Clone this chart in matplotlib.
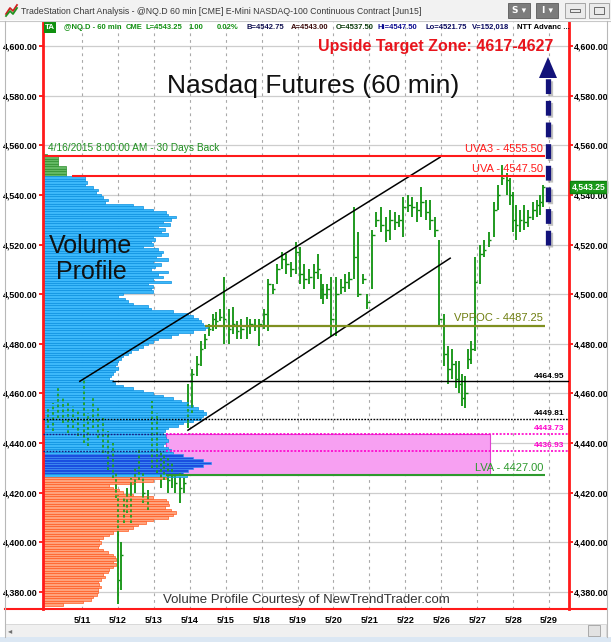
import matplotlib
matplotlib.use("Agg")
import matplotlib.pyplot as plt
import matplotlib.patheffects as pe
from matplotlib.patches import Rectangle, Polygon
from matplotlib.lines import Line2D
import numpy as np

plt.rcParams['font.family'] = ['Liberation Sans', 'DejaVu Sans']

W, H = 611, 642

# ---- data ----
day_labels = ['5/11', '5/12', '5/13', '5/14', '5/15', '5/18', '5/19',
              '5/20', '5/21', '5/22', '5/26', '5/27', '5/28', '5/29']

# hourly bars (time in trading days from 5/11)
bar_day = [-0.94, -0.81, -0.67, -0.53, -0.39, -0.25, -0.11, 0.06, 0.17, 0.31, 0.44, 0.58, 0.72, 0.86,
           0.94, 1.00, 1.08, 1.17, 1.25, 1.36, 1.47, 1.58, 1.69, 1.83, 1.94,
           2.08, 2.19, 2.28, 2.39, 2.50, 2.58, 2.72, 2.83,
           2.94, 3.06, 3.19, 3.31, 3.42, 3.53, 3.64, 3.72, 3.83,
           3.94, 4.08, 4.19, 4.31, 4.44, 4.58, 4.69, 4.81, 4.94,
           5.08, 5.19, 5.31, 5.44, 5.58, 5.69, 5.83, 5.97,
           6.08, 6.19, 6.33, 6.47, 6.56, 6.64, 6.72, 6.83,
           6.94, 7.08, 7.22, 7.33, 7.44, 7.58, 7.69, 7.83, 7.94,
           8.08, 8.19, 8.33, 8.47, 8.58, 8.72, 8.83, 8.94,
           9.08, 9.19, 9.33, 9.44, 9.58, 9.69, 9.83,
           9.94, 10.08, 10.19, 10.31, 10.42, 10.50, 10.58, 10.67, 10.75, 10.83,
           10.94, 11.08, 11.19, 11.33, 11.47, 11.58, 11.69, 11.83, 11.92, 12.00,
           12.08, 12.19, 12.31, 12.42, 12.56, 12.67, 12.75, 12.83]
bar_high = [4454, 4456, 4462, 4458, 4457, 4455, 4453, 4466, 4452, 4458, 4455, 4450, 4445, 4440,
            4428, 4419, 4400, 4418, 4422, 4426, 4430, 4438, 4428, 4421, 4457,
            4452, 4437, 4436, 4434, 4432, 4428, 4428, 4426,
            4464, 4470, 4475, 4481, 4484, 4488, 4492, 4493, 4494,
            4507, 4494, 4495, 4489, 4490, 4491, 4490, 4490, 4490,
            4494, 4506, 4504, 4512, 4517, 4516, 4513, 4521,
            4519, 4512, 4510, 4512, 4516, 4508, 4504, 4504,
            4507, 4507, 4506, 4508, 4509, 4535, 4525, 4508, 4500,
            4526, 4533, 4535, 4531, 4534, 4533, 4532, 4539,
            4540, 4539, 4537, 4543, 4538, 4538, 4531,
            4522, 4492, 4479, 4478, 4473, 4473, 4468, 4467, 4478, 4481,
            4515, 4520, 4522, 4525, 4537, 4544, 4552, 4549, 4547, 4541,
            4536, 4534, 4536, 4534, 4537, 4538, 4540, 4544]
bar_low = [4446, 4445, 4450, 4448, 4444, 4446, 4443, 4440, 4439, 4446, 4442, 4436, 4429, 4426,
           4418, 4375, 4381, 4408, 4412, 4408, 4420, 4425, 4416, 4413, 4430,
           4428, 4422, 4425, 4420, 4422, 4420, 4416, 4420,
           4446, 4452, 4467, 4471, 4478, 4483, 4485, 4486, 4489,
           4480, 4480, 4484, 4482, 4482, 4482, 4484, 4485, 4479,
           4486, 4485, 4500, 4504, 4510, 4508, 4507, 4508,
           4504, 4502, 4504, 4502, 4506, 4498, 4496, 4498,
           4483, 4483, 4500, 4501, 4502, 4506, 4499, 4504, 4494,
           4502, 4527, 4525, 4521, 4522, 4526, 4527, 4523,
           4533, 4531, 4529, 4531, 4530, 4526, 4523,
           4487, 4471, 4464, 4466, 4462, 4460, 4455, 4454, 4470, 4472,
           4477, 4504, 4515, 4519, 4523, 4534, 4544, 4540, 4536, 4525,
           4522, 4525, 4526, 4527, 4530, 4531, 4532, 4535]
bar_close = [4450, 4452, 4455, 4452, 4449, 4451, 4447, 4445, 4442, 4450, 4446, 4440, 4433, 4430,
             4420, 4385, 4395, 4415, 4418, 4412, 4428, 4430, 4420, 4418, 4440,
             4435, 4430, 4428, 4425, 4428, 4424, 4422, 4424,
             4450, 4468, 4472, 4478, 4482, 4486, 4490, 4489, 4491,
             4490, 4486, 4488, 4485, 4486, 4487, 4488, 4487, 4488,
             4492, 4504, 4502, 4510, 4514, 4512, 4510, 4517,
             4508, 4506, 4507, 4509, 4510, 4502, 4500, 4502,
             4490, 4500, 4503, 4505, 4506, 4515, 4500, 4506, 4497,
             4524, 4530, 4528, 4526, 4530, 4529, 4530, 4535,
             4536, 4535, 4534, 4537, 4533, 4530, 4526,
             4490, 4476, 4470, 4472, 4466, 4464, 4458, 4460, 4474, 4478,
             4505, 4516, 4518, 4522, 4534, 4540, 4547, 4546, 4540, 4530,
             4528, 4530, 4529, 4531, 4534, 4536, 4537, 4543.25]

# volume profile, one row per point from 4556 down to 4375 (relative volume)
profile_top = 4556
profile_len = [4, 15, 15, 15, 15, 23, 23, 23, 23,
               42, 42, 44, 42, 50, 55, 53, 58, 60, 65, 62, 90,
               100, 110, 123, 125, 133, 128, 120, 127, 115, 122, 118, 125,
               110, 112, 108, 110, 100, 115, 120, 118, 113, 125, 110, 118,
               112, 108, 125, 115, 120, 110, 128, 105, 110, 108, 110, 80,
               75, 82, 85, 90, 105, 108, 130, 145, 150, 155, 158, 160,
               165, 162, 150, 135, 128, 115, 110, 105, 100, 95, 88, 85,
               80, 78, 75, 74, 72, 75, 72, 70, 68, 66, 70, 72,
               80, 90, 100, 110, 120, 130, 138, 145, 150, 155, 160, 163,
               160, 158, 150, 140, 135, 125, 122, 120, 122, 123, 125, 122,
               120, 125, 128, 130, 140, 150, 160, 168, 160, 150, 145, 140,
               144,
               123, 110, 90, 66, 70, 76, 80, 90, 110, 123, 125, 126,
               122, 128, 133, 130, 125, 110, 103, 95, 90, 85, 70, 66,
               60, 56, 58, 56, 55, 60, 65, 70, 72, 73, 70, 73,
               70, 66, 65, 60, 62, 58, 55, 56, 58, 55, 55, 54,
               50, 48, 40, 20]
profile_levels = profile_top - np.arange(len(profile_len))

uva3 = 4555.50
uva = 4547.50
vppoc = 4487.25
lva = 4427.00
lvl_a = 4464.95
lvl_b = 4449.81
lvl_c = 4443.73
lvl_d = 4436.93
last_price = 4543.25
poc_band = (4428, 4435)

upper_channel = ([-0.06, 9.97], [4464.9, 4555.2])
lower_channel = ([2.95, 10.25], [4445.2, 4514.5])

# ---- layout helpers (pixels of the screenshot) ----
px_per_day = 35.92
day0_px = 82


def dx(px):
    return (px - day0_px) / px_per_day


def fx(px):
    return px / W


def fy(py):
    return 1 - py / H


fig = plt.figure(figsize=(W / 100, H / 100), dpi=100)
fig.patch.set_facecolor('white')

ax = fig.add_axes([fx(43), fy(609), (569 - 43) / W, (609 - 22) / H])
ax.set_xlim(dx(43), dx(569))
ax.set_ylim(4373.15, 4609.67)
ax.set_facecolor('white')

# grid
yt = np.arange(4380, 4601, 20)
ax.set_yticks(yt)
ax.set_yticklabels([f'{v:,.2f}' for v in yt])
ax.set_xticks(np.arange(len(day_labels)))
ax.set_xticklabels(day_labels)
for v in yt:
    ax.axhline(v, color='#cdcdcd', lw=0.9, zorder=0)
for d in range(len(day_labels)):
    ax.axvline(d, color='#a9a9a9', lw=0.8, ls=(0, (2.5, 3.5)), zorder=0)

ax.tick_params(axis='y', which='both', left=True, right=True, labelleft=True, labelright=True,
               direction='out', length=3, width=1.2, color='red', pad=0.8, labelsize=6.4)
ax.tick_params(axis='x', length=0, pad=5, labelsize=6.6)
for lab in ax.get_yticklabels() + ax.get_xticklabels():
    lab.set_fontweight('bold')
for s in ['top', 'bottom']:
    ax.spines[s].set_visible(False)
for s in ['left', 'right']:
    ax.spines[s].set_color('#ff1a1a')
    ax.spines[s].set_linewidth(2)

# magenta box between LVA and 4443.73
ax.add_patch(Rectangle((dx(166), lva), dx(490) - dx(166), lvl_c - lva,
                       facecolor='#f7a0f2', edgecolor='#e040d0', lw=0.8, zorder=1.5))

# price bars (solid under the profile, dotted copy over it)
ax.vlines(bar_day, bar_low, bar_high, color='#128c12', lw=1.3, zorder=1.9)
ax.hlines(bar_close, bar_day, np.array(bar_day) + 0.07, color='#128c12', lw=1.0, zorder=1.9)

# volume profile
x0 = ax.get_xlim()[0]
faces, edges = [], []
for lv in profile_levels:
    if lv > uva:
        faces.append('#63b863'); edges.append('#2f8f2f')
    elif lv < lva:
        faces.append('#ffa27c'); edges.append('#ff5c22')
    elif poc_band[0] <= lv <= poc_band[1]:
        faces.append('#1a4fe0'); edges.append('#3d8ff2')
    else:
        faces.append('#3cb8fa'); edges.append('#0a90e0')
ax.barh(profile_levels, np.array(profile_len) / px_per_day, left=x0, height=1.0,
        color=faces, edgecolor=edges, linewidth=0.5, zorder=2)

ax.vlines(bar_day, bar_low, bar_high, color='#22a022', lw=1.3, ls=(0, (1.5, 1.5)), zorder=2.5)

# channel
ax.plot(*upper_channel, color='black', lw=1.1, zorder=4)
ax.plot(*lower_channel, color='black', lw=1.1, zorder=4)

# levels
ax.hlines(uva3, x0, dx(545), color='#ff1a1a', lw=1.5, zorder=4)
ax.hlines(uva, dx(72), dx(545), color='#ff1a1a', lw=1.5, zorder=4)
ax.hlines(vppoc, dx(205), dx(545), color='#7f8f1f', lw=1.6, zorder=4)
ax.hlines(lvl_a, dx(112), dx(569), color='black', lw=1.0, zorder=4)
ax.hlines(lvl_b, x0, dx(569), color='black', lw=1.0, ls=(0, (1.2, 1)), zorder=4)
ax.hlines([lvl_c, lvl_d], x0, dx(166), color='#1a1a80', lw=1.0, ls=(0, (1.2, 1)), zorder=4)
ax.hlines([lvl_c, lvl_d], dx(166), dx(569), color='#ff00cc', lw=1.2, ls=(0, (1.2, 1)), zorder=4)
ax.hlines(lva, dx(166), dx(545), color='#2e9a2e', lw=1.5, zorder=4)

lx = dx(543)
ax.text(lx, uva3 + 1.0, f'UVA3 - {uva3:.2f}', color='#ff1a1a', fontsize=8, ha='right', va='bottom', zorder=5)
ax.text(lx, uva + 1.0, f'UVA - {uva:.2f}', color='#ff1a1a', fontsize=8, ha='right', va='bottom', zorder=5)
ax.text(lx, vppoc + 1.0, f'VPPOC - {vppoc:.2f}', color='#6f7f10', fontsize=8, ha='right', va='bottom', zorder=5)
ax.text(lx, lva + 0.8, f'LVA - {lva:.2f}', color='#2e9a2e', fontsize=8, ha='right', va='bottom', zorder=5)
sx = dx(564)
ax.text(sx, lvl_a + 0.6, f'{lvl_a:.2f}', color='black', fontsize=6, fontweight='bold', ha='right', va='bottom', zorder=5)
ax.text(sx, lvl_b + 0.6, f'{lvl_b:.2f}', color='black', fontsize=6, fontweight='bold', ha='right', va='bottom', zorder=5)
ax.text(sx, lvl_c + 0.6, f'{lvl_c:.2f}', color='#ff00cc', fontsize=6, fontweight='bold', ha='right', va='bottom', zorder=5)
ax.text(sx, lvl_d + 0.6, f'{lvl_d:.2f}', color='#ff00cc', fontsize=6, fontweight='bold', ha='right', va='bottom', zorder=5)

ax.text(dx(48), uva3 + 1.2, '4/16/2015 8:00:00 AM - 30 Days Back', color='#1f8f1f',
        fontsize=7.3, ha='left', va='bottom', zorder=5)

# annotations
ax.text(dx(91), 4514, 'Volume\nProfile', fontsize=18, ha='center', va='center',
        linespacing=1.1, color='#111111', zorder=5)
fig.text(fx(313), fy(86), 'Nasdaq Futures (60 min)', fontsize=19, ha='center', va='center', color='#111111')
fig.text(fx(436), fy(47), 'Upside Target Zone: 4617-4627', fontsize=11.5, fontweight='bold',
         ha='center', va='center', color='#e8141c')
fig.text(fx(306), fy(600), 'Volume Profile Courtesy of NewTrendTrader.com', fontsize=9.5,
         ha='center', va='center', color='#333333')

# upside arrow
shadow = [pe.SimpleLineShadow(offset=(1.5, -1.5), shadow_color='#999999', alpha=0.6), pe.Normal()]
fig.add_artist(Line2D([fx(548), fx(548)], [fy(245), fy(76)], color='#12127a', lw=3.8,
                      ls=(0, (2.8, 1.3)), transform=fig.transFigure, path_effects=shadow))
fig.add_artist(Polygon([[fx(539), fy(78)], [fx(557), fy(78)], [fx(548), fy(57)]], closed=True,
                       facecolor='#12127a', edgecolor='none', transform=fig.transFigure))

# last price tag
ax.text(1.005, last_price, f'{last_price:,.2f}', transform=ax.get_yaxis_transform(),
        fontsize=6.2, fontweight='bold', color='white', ha='left', va='center',
        bbox=dict(boxstyle='square,pad=0.2', facecolor='#1a9a1a', edgecolor='#0f7f0f'), zorder=6,
        clip_on=False)

# ---- window chrome ----
fig.add_artist(Rectangle((0, fy(20)), 1, 20 / H, transform=fig.transFigure,
                         facecolor='#f2f2f2', edgecolor='none'))
fig.add_artist(Line2D([0, 1], [fy(20.5), fy(20.5)], color='#c8c8c8', lw=0.8, transform=fig.transFigure))
fig.add_artist(Line2D([fx(6), fx(10), fx(13), fx(17)], [fy(14), fy(8), fy(11), fy(5)],
                      color='#d02020', lw=1.3, transform=fig.transFigure))
fig.add_artist(Line2D([fx(6), fx(10), fx(13), fx(17)], [fy(16), fy(11), fy(14), fy(8)],
                      color='#209020', lw=1.3, transform=fig.transFigure))
fig.text(fx(21), fy(11), 'TradeStation Chart Analysis - @NQ.D 60 min [CME] E-Mini NASDAQ-100 '
         'Continuous Contract [Jun15]', fontsize=6.3, color='#3a3a3a', ha='left', va='center')
for x1, x2, lab in [(508, 530, 'S ▾'), (536, 558, 'I ▾')]:
    fig.add_artist(Rectangle((fx(x1), fy(18)), (x2 - x1) / W, 15 / H, transform=fig.transFigure,
                             facecolor='#7c7c7c', edgecolor='#5a5a5a', lw=0.6))
    fig.text(fx((x1 + x2) / 2), fy(10.5), lab, fontsize=6.5, fontweight='bold', color='white',
             ha='center', va='center', family=['DejaVu Sans'])
for x1, x2 in [(565, 585), (589, 609)]:
    fig.add_artist(Rectangle((fx(x1), fy(18)), (x2 - x1) / W, 15 / H, transform=fig.transFigure,
                             facecolor='#eaeaea', edgecolor='#9a9a9a', lw=0.6))
fig.add_artist(Rectangle((fx(570), fy(12)), 10 / W, 3 / H, transform=fig.transFigure,
                         facecolor='none', edgecolor='#555555', lw=0.6))
fig.add_artist(Rectangle((fx(594), fy(14)), 10 / W, 7 / H, transform=fig.transFigure,
                         facecolor='none', edgecolor='#555555', lw=0.6))

# info line
fig.add_artist(Rectangle((fx(44), fy(33)), 12 / W, 11 / H, transform=fig.transFigure,
                         facecolor='#109010', edgecolor='none'))
fig.text(fx(50), fy(27.5), 'TA', fontsize=5.8, fontweight='bold', color='white', ha='center', va='center')
info = [(64, '@NQ.D - 60 min', '#129012'), (126, 'CME', '#129012'), (146, 'L=4543.25', '#129012'),
        (189, '1.00', '#129012'), (217, '0.02%', '#129012'), (247, 'B=4542.75', '#101050'),
        (291, 'A=4543.00', '#3a0a0a'), (336, 'O=4537.50', '#0a3a0a'), (378, 'Hi=4547.50', '#0a0a90'),
        (425, 'Lo=4521.75', '#0a0a60'), (472, 'V=152,018', '#0a0a60'), (517, 'NTT Advanc ...', '#000000')]
for x, t, c in info:
    fig.text(fx(x), fy(27.5), t, fontsize=5.5, fontweight='bold', color=c, ha='left', va='center')

# bottom rule, scrollbar, frame
fig.add_artist(Line2D([fx(5), fx(606)], [fy(609), fy(609)], color='#ff1a1a', lw=1.5, transform=fig.transFigure))
fig.add_artist(Rectangle((fx(5), fy(637)), 601 / W, 13 / H, transform=fig.transFigure,
                         facecolor='#f0f0f0', edgecolor='#d4d4d4', lw=0.6))
fig.text(fx(10), fy(630.5), '◂', fontsize=6, color='#707070', ha='center', va='center', family=['DejaVu Sans'])
fig.add_artist(Rectangle((fx(588), fy(636)), 12 / W, 11 / H, transform=fig.transFigure,
                         facecolor='#e2e2e2', edgecolor='#a0a0a0', lw=0.6))
fig.add_artist(Rectangle((0, 0), 1, 5 / H, transform=fig.transFigure, facecolor='#dbe7f3', edgecolor='none'))
fig.add_artist(Line2D([fx(4.5), fx(4.5)], [fy(21), fy(637)], color='#b8b8b8', lw=0.8, transform=fig.transFigure))
fig.add_artist(Line2D([fx(606.5), fx(606.5)], [fy(21), fy(637)], color='#b8b8b8', lw=0.8, transform=fig.transFigure))

fig.savefig('out.png', dpi=100)
